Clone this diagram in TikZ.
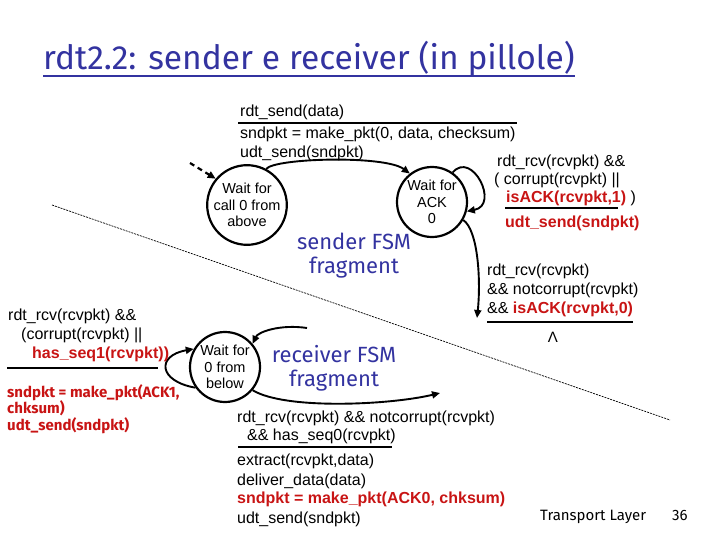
\documentclass[tikz,border=0pt]{standalone}
\usepackage{fontspec}
\setmainfont{Liberation Sans}
\newfontfamily\comic{Fira Sans}
\usetikzlibrary{arrows.meta}
\definecolor{tblue}{RGB}{51,51,160}
\definecolor{tred}{RGB}{200,20,20}
\begin{document}
\begin{tikzpicture}[x=1pt,y=-1pt,
  txt/.style={anchor=base west,inner sep=0pt,font=\fontsize{16}{19}\selectfont},
  rtxt/.style={anchor=base west,inner sep=0pt,text=tred,font=\fontsize{16}{19}\selectfont\bfseries},
  smallred/.style={anchor=base west,inner sep=0pt,text=tred,font=\comic\fontsize{15}{17}\selectfont\bfseries},
  state/.style={circle,draw,line width=2.2pt,minimum size=70pt,inner sep=0pt,align=center,font=\fontsize{14.5}{16.5}\selectfont},
  arr/.style={line width=1.9pt,-{Triangle[length=8pt,width=7pt]}},
  bar/.style={line width=2.2pt},
  bluetxt/.style={text=tblue,inner sep=0pt,anchor=base,font=\comic\fontsize{22}{26}\selectfont}
]
\useasboundingbox (0,0) rectangle (720,540);
% title
\node[anchor=base west,inner sep=0pt,text=tblue,font=\comic\fontsize{33.5}{38}\selectfont] (title) at (43,70) {rdt2.2: sender e receiver (in pillole)};
\draw[tblue,line width=2.8pt] ([yshift=-6pt]title.base west) -- ([yshift=-6pt]title.base east);
% divider
\coordinate (d1) at (52,205);
\coordinate (d2) at (670,420);
\draw[line width=0.7pt,dash pattern=on 2pt off 1pt] (d1) -- (d2);
% states
\node[state] (s1) at (247,205) {Wait for\\call 0 from\\above};
\node[state] (s2) at (432,202) {Wait for\\ACK\\0};
\node[state] (r) at (225,367) {Wait for\\0 from\\below};
% sender connectors
\coordinate (dstart) at (190,163);
\draw[arr,line width=2.2pt,dash pattern=on 5pt off 4pt] (dstart) -- (s1.140);
\draw[arr] (s1.62) .. controls (275,158) and (385,155) .. (s2.128);
\draw[arr] (s2.55) .. controls (472,150) and (500,205) .. (s2.-15);
\coordinate (aend) at (477,318);
\draw[arr] (s2.-30) .. controls (478,230) and (481,280) .. (aend);
% receiver connectors
\draw[arr] (r.215) .. controls +(190:38) and +(170:38) .. (r.150);
\coordinate (rin) at (307,328);
\draw[arr] (rin) .. controls (280,324) and (258,332) .. (r.40);
\coordinate (rout) at (440,393);
\draw[arr] (r.-40) .. controls (285,410) and (390,405) .. (rout);
% sender label top
\node[txt] (l1) at (240,117) {rdt\_send(data)};
\draw[bar] (238,123) -- (517,123);
\node[txt] (l2) at (240,139) {sndpkt = make\_pkt(0, data, checksum)};
\node[txt] (l3) at (240,158) {udt\_send(sndpkt)};
% sender self-loop label
\node[txt] (m1) at (497,167) {rdt\_rcv(rcvpkt) \&\&};
\node[txt] (m2) at (494,185) {( corrupt(rcvpkt) ||};
\node[txt] (m3) at (506,203) {\textcolor{tred}{\bfseries isACK(rcvpkt,1)} )};
\draw[bar] (505,208) -- (618,208);
\node[rtxt] (m4) at (505,227) {udt\_send(sndpkt)};
% sender down label
\node[txt] (n1) at (487,275) {rdt\_rcv(rcvpkt)};
\node[txt] (n2) at (487,294) {\&\& notcorrupt(rcvpkt)};
\node[txt] (n3) at (487,313) {\&\& \textcolor{tred}{\bfseries isACK(rcvpkt,0)}};
\draw[bar] (487,322) -- (633,322);
\node[anchor=base,inner sep=0pt,font=\fontsize{15}{18}\selectfont] (lam) at (553,342) {Λ};
% blue labels
\node[bluetxt] (sf1) at (354,249) {sender FSM};
\node[bluetxt] (sf2) at (354,273) {fragment};
\node[bluetxt] (rf1) at (334,362) {receiver FSM};
\node[bluetxt] (rf2) at (334,386) {fragment};
% receiver self-loop label
\node[txt] (k1) at (8,320) {rdt\_rcv(rcvpkt) \&\&};
\node[txt] (k2) at (21,339) {(corrupt(rcvpkt) ||};
\node[rtxt] (k3) at (32,358) {has\_seq1(rcvpkt))};
\draw[bar] (7,368) -- (158,368);
\node[smallred] (k4) at (7,397) {sndpkt = make\_pkt(ACK1,};
\node[smallred] (k5) at (7,413) {chksum)};
\node[smallred] (k6) at (7,430) {udt\_send(sndpkt)};
% receiver main label
\node[txt] (q1) at (237,422) {rdt\_rcv(rcvpkt) \&\& notcorrupt(rcvpkt)};
\node[txt] (q2) at (247,440) {\&\& has\_seq0(rcvpkt)};
\draw[bar] (238,447) -- (392,447);
\node[txt] (q3) at (237,465) {extract(rcvpkt,data)};
\node[txt] (q4) at (237,485) {deliver\_data(data)};
\node[rtxt] (q5) at (237,503) {sndpkt = make\_pkt(ACK0, chksum)};
\node[txt] (q6) at (237,523) {udt\_send(sndpkt)};
% footer
\node[anchor=base west,inner sep=0pt,font=\comic\fontsize{15}{17}\selectfont] (foot) at (540,520) {Transport Layer};
\node[anchor=base west,inner sep=0pt,font=\comic\fontsize{15}{17}\selectfont] (pg) at (672,520) {36};
\end{tikzpicture}
\end{document}
